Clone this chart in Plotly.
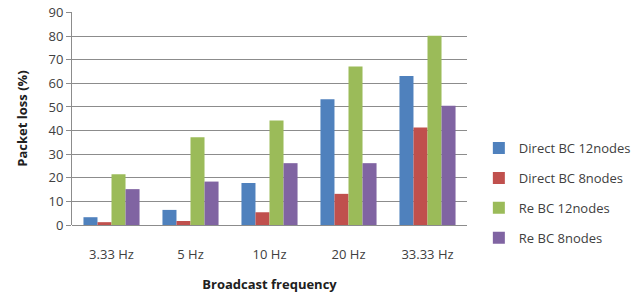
import plotly.graph_objects as go

categories = ["3.33 Hz", "5 Hz", "10 Hz", "20 Hz", "33.33 Hz"]
direct_bc_12 = [3.3, 6.4, 17.8, 53.3, 63.1]
direct_bc_8 = [1.2, 1.7, 5.4, 13.2, 41.3]
re_bc_12 = [21.5, 37.2, 44.3, 67.2, 80.2]
re_bc_8 = [15.2, 18.4, 26.2, 26.2, 50.5]
y_ticks = [0, 10, 20, 30, 40, 50, 60, 70, 80, 90]

series = [
    ("Direct BC 12nodes", direct_bc_12, "#4F81BD"),
    ("Direct BC 8nodes", direct_bc_8, "#C0504D"),
    ("Re BC 12nodes", re_bc_12, "#9BBB59"),
    ("Re BC 8nodes", re_bc_8, "#8064A2"),
]

fig = go.Figure()
for i, (name, vals, color) in enumerate(series):
    fig.add_trace(go.Bar(x=categories, y=vals, name=name, marker_color=color,
                         marker_line_width=0, legendgroup=f"g{i}"))

font_family = "Open Sans, Liberation Sans, sans-serif"
fig.update_layout(
    width=640, height=293,
    margin=dict(l=72, r=173, t=12, b=68, autoexpand=False),
    paper_bgcolor="white", plot_bgcolor="white",
    barmode="group", bargap=0.29, bargroupgap=0,
    font=dict(family=font_family, size=12, color="#404040"),
    showlegend=True,
    legend=dict(x=1.03, y=0.15, xanchor="left", yanchor="middle",
                font=dict(size=13, color="#404040"), tracegroupgap=10,
                itemwidth=30),
    xaxis=dict(title=dict(text="<b>Broadcast frequency</b>", standoff=20,
                          font=dict(size=13, color="#202020")),
               automargin=False,
               showgrid=False, showline=False, ticks="outside", ticklen=17,
               tickcolor="rgba(0,0,0,0)",
               tickfont=dict(size=13, color="#404040")),
    yaxis=dict(title=dict(text="<b>Packet loss (%)</b>", standoff=17,
                          font=dict(size=13, color="#202020")),
               automargin=False,
               range=[0, 90.25], tickvals=y_ticks, showgrid=True,
               gridcolor="#8C8C8C", gridwidth=1, zeroline=True,
               zerolinecolor="#8C8C8C", zerolinewidth=1,
               showline=True, linecolor="#8C8C8C", linewidth=1,
               ticks="outside", ticklen=5, tickcolor="#8C8C8C",
               tickfont=dict(size=13, color="#404040")),
)

fig.write_html("out.html", config={"displayModeBar": False},
               post_script="document.body.style.margin='0';")
